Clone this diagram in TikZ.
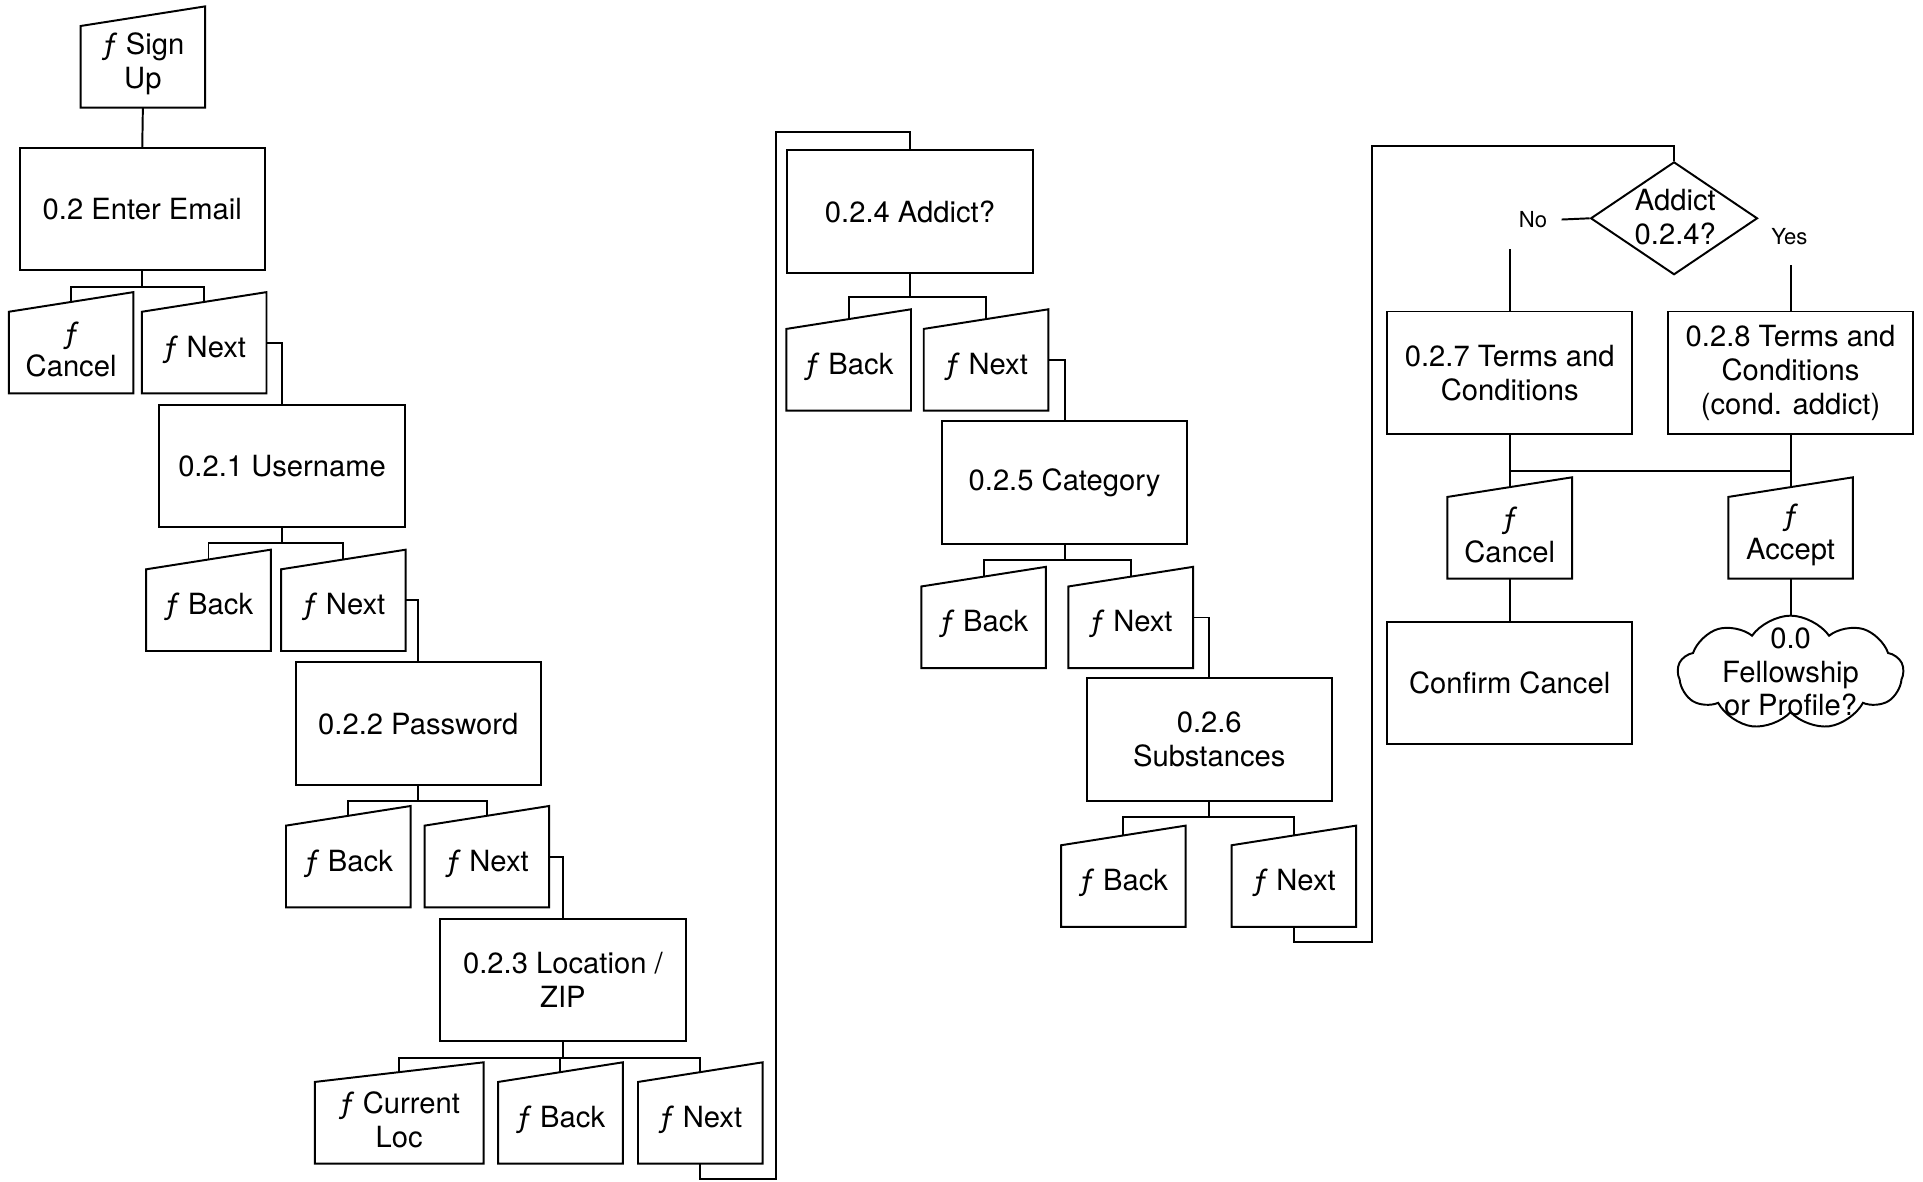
\documentclass[tikz,border=0pt]{standalone}
\usepackage{fontspec}
\setmainfont{TeX Gyre Heros}
\usetikzlibrary{shapes.geometric,shapes.symbols,calc}
\newcommand\mybranch[4]{%
  \draw (#1.south) -- (#1.south |- 0,#2);
  \draw ($(#3.north)+(0,8)$) -- (#3.north |- 0,#2) -- (#4.north |- 0,#2) -- ($(#4.north)+(0,8)$);}
\begin{document}
\begin{tikzpicture}[x=1pt,y=-1pt, line width=1.6pt,
  every node/.style={font=\fontsize{23.8}{27.5}\selectfont, align=center, inner sep=0pt},
  box/.style={draw, minimum width=200pt, minimum height=100pt},
  mi/.style={minimum width=100pt, minimum height=81pt, label={[yshift=-5.5pt]center:#1}},
  lab/.style={font=\fontsize{18}{21}\selectfont, inner xsep=11pt}]
\useasboundingbox (0,0) rectangle (1568,963);

% column 1
\node[mi={ƒ Sign\\Up}] (signup) at (116.5,46.5) {};
\node[box] (email) at (116,170.5) {0.2 Enter Email};
\node[mi={ƒ\\Cancel}] (cancelA) at (58,279.5) {};
\node[mi={ƒ Next}] (nextA) at (166.5,279.5) {};
\node[box] (user) at (230,380) {0.2.1 Username};
\node[mi={ƒ Back}] (backB) at (170,489.5) {};
\node[mi={ƒ Next}] (nextB) at (280,489.5) {};
\node[box] (pass) at (341,590) {0.2.2 Password};
\node[mi={ƒ Back}] (backC) at (284,698.5) {};
\node[mi={ƒ Next}] (nextC) at (397,698.5) {};
\node[box] (loc) at (459,799) {0.2.3 Location /\\ZIP};
\node[mi={ƒ Current\\Loc}, minimum width=136pt] (curloc) at (325.5,907.5) {};
\node[mi={ƒ Back}] (backD) at (457,907.5) {};
\node[mi={ƒ Next}] (nextD) at (571,907.5) {};

% column 2
\node[box] (addict) at (742,172.5) {0.2.4 Addict?};
\node[mi={ƒ Back}] (backE) at (692,293.5) {};
\node[mi={ƒ Next}] (nextE) at (804,293.5) {};
\node[box] (cat) at (868,393.5) {0.2.5 Category};
\node[mi={ƒ Back}] (backF) at (802,503.5) {};
\node[mi={ƒ Next}] (nextF) at (922,503.5) {};
\node[box] (subs) at (986,603) {0.2.6\\Substances};
\node[mi={ƒ Back}] (backG) at (916,714.5) {};
\node[mi={ƒ Next}] (nextG) at (1055,714.5) {};

% column 3
\node[diamond, draw, minimum width=136pt, minimum height=92pt] (dia) at (1365,178) {};
\node (diatext) at (1366,177) {Addict\\0.2.4?};
\node[lab] (no) at (1250,179) {No};
\node[lab] (yes) at (1459,193) {Yes};
\node[box] (tc7) at (1231,304) {0.2.7 Terms and\\Conditions};
\node[box] (tc8) at (1460,304) {0.2.8 Terms and\\Conditions\\(cond. addict)};
\node[mi={ƒ\\Cancel}] (cancelH) at (1231,430.5) {};
\node[mi={ƒ\\Accept}] (accept) at (1460,430.5) {};
\node[box] (confirm) at (1231,557) {Confirm Cancel};
\node[cloud, draw, cloud puffs=9, cloud puff arc=110, aspect=2, minimum width=184pt, minimum height=93pt] (cloud) at (1460,548.5) {};
\node (cloudtext) at (1460,548) {0.0\\Fellowship\\or Profile?};

% manual input outlines
\foreach \n in {signup,cancelA,nextA,backB,nextB,backC,nextC,curloc,backD,nextD,backE,nextE,backF,nextF,backG,nextG,cancelH,accept}
  \draw (\n.north east) -- (\n.south east) -- (\n.south west) -- ($(\n.north west)+(0,16)$) -- cycle;

% connectors
\draw (signup.south) -- (email.north);
\mybranch{email}{234}{cancelA}{nextA}
\draw (nextA.east) -| (user.north);
\mybranch{user}{443}{backB}{nextB}
\draw (nextB.east) -| (pass.north);
\mybranch{pass}{653}{backC}{nextC}
\draw (nextC.east) -| (loc.north);
\mybranch{loc}{863}{curloc}{nextD}
\draw (backD.north |- 0,863) -- ($(backD.north)+(0,8)$);

\coordinate (la) at (633,961);
\coordinate (lb) at (633,108);
\draw (nextD.south) |- (la) -- (lb) -| (addict.north);

\mybranch{addict}{242}{backE}{nextE}
\draw (nextE.east) -| (cat.north);
\mybranch{cat}{457}{backF}{nextF}
\draw (nextF.east) -| (subs.north);
\mybranch{subs}{666}{backG}{nextG}

\coordinate (lc) at (1119,768);
\coordinate (ld) at (1119,119);
\draw (nextG.south) |- (lc) -- (ld) -| (dia.north);

\draw (dia.west) -- (no.east);
\draw (tc7.north) -- ++(0,-50);
\draw (tc8.north) -- ++(0,-37);
\draw (tc7.south) -- ($(cancelH.north)+(0,8)$);
\draw (tc8.south) -- ($(accept.north)+(0,8)$);
\draw (tc7.south |- 0,384) -- (tc8.south |- 0,384);
\draw (cancelH.south) -- (confirm.north);
\draw (accept.south) -- (cloud.north);
\end{tikzpicture}
\end{document}
